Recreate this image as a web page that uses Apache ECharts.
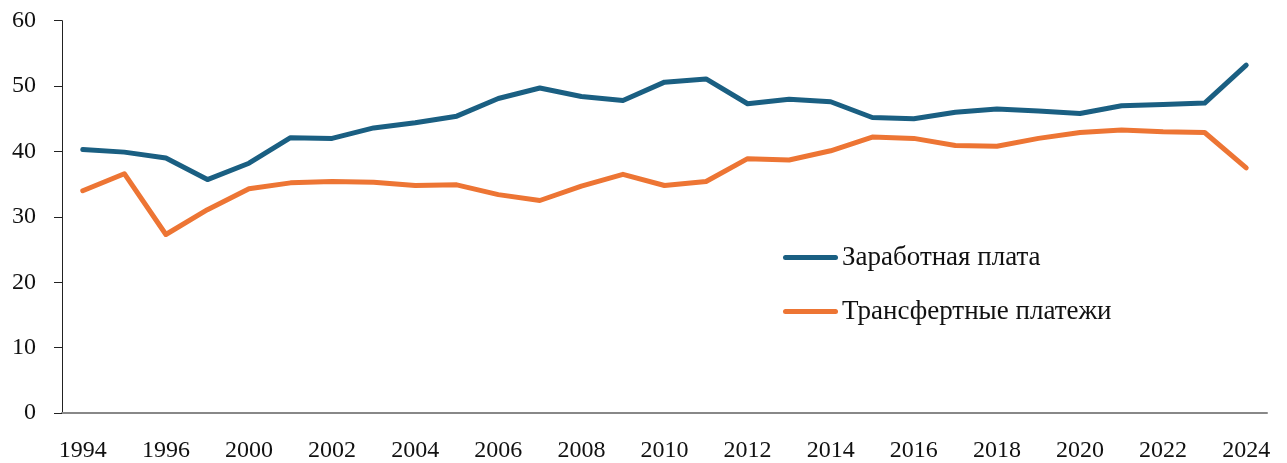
<!DOCTYPE html>
<html>
<head>
<meta charset="utf-8">
<script src="https://cdn.jsdelivr.net/npm/echarts@6/dist/echarts.min.js"></script>
<style>
html,body{margin:0;padding:0;background:#fff;}
#chart{width:1287px;height:463px;}
</style>
</head>
<body>
<div id="chart"></div>
<script>
const years = ['1994','1995','1996','1997','2000','2001','2002','2003','2004','2005','2006','2007','2008','2009','2010','2011','2012','2013','2014','2015','2016','2017','2018','2019','2020','2021','2022','2023','2024'];
const wages = [40.3,39.9,39.0,35.7,38.2,42.1,42.0,43.6,44.4,45.4,48.1,49.7,48.4,47.8,50.6,51.1,47.3,48.0,47.6,45.2,45.0,46.0,46.5,46.2,45.8,47.0,47.2,47.4,53.2];
const transfers = [34.0,36.6,27.3,31.1,34.3,35.2,35.4,35.3,34.8,34.9,33.4,32.5,34.7,36.5,34.8,35.4,38.9,38.7,40.1,42.2,42.0,40.9,40.8,42.0,42.9,43.3,43.0,42.9,37.5];
const yTicks = [0,10,20,30,40,50,60];
const seriesNames = ['Заработная плата','Трансфертные платежи'];

const FONT = 'Liberation Serif';
const chart = echarts.init(document.getElementById('chart'), null, {renderer:'canvas'});
const pill = 'path://M2.5,0 L52.5,0 A2.5,2.5 0 0 1 52.5,5 L2.5,5 A2.5,2.5 0 0 1 2.5,0 Z';
chart.setOption({
  animation:false,
  backgroundColor:'#fff',
  textStyle:{fontFamily:FONT},
  grid:{left:62,right:20,top:20.7,bottom:49,containLabel:false},
  legend:{
    orient:'vertical',
    left:783, top:244, padding:0,
    itemWidth:55, itemHeight:5, itemGap:27,
    icon:pill,
    textStyle:{fontFamily:FONT,fontSize:27,color:'#111',padding:[0,0,0,-1]},
    data:seriesNames
  },
  xAxis:{
    type:'category',
    data:years,
    boundaryGap:true,
    axisLine:{lineStyle:{color:'#888',width:2}},
    axisTick:{show:false},
    axisLabel:{interval:1,fontFamily:FONT,fontSize:24,color:'#111',margin:26}
  },
  yAxis:{
    type:'value',
    min:yTicks[0], max:yTicks[yTicks.length-1], interval:10,
    splitLine:{show:false},
    axisLine:{show:true,lineStyle:{color:'#222',width:1}},
    axisTick:{show:true,length:8,lineStyle:{color:'#222',width:1}},
    axisLabel:{fontFamily:FONT,fontSize:24,color:'#111',margin:26}
  },
  series:[
    {name:seriesNames[0],type:'line',data:wages,showSymbol:false,symbol:'none',
     lineStyle:{color:'#1a5f82',width:5,cap:'round',join:'round'},itemStyle:{color:'#1a5f82'}},
    {name:seriesNames[1],type:'line',data:transfers,showSymbol:false,symbol:'none',
     lineStyle:{color:'#ed7534',width:5,cap:'round',join:'round'},itemStyle:{color:'#ed7534'}}
  ]
});
</script>
</body>
</html>
